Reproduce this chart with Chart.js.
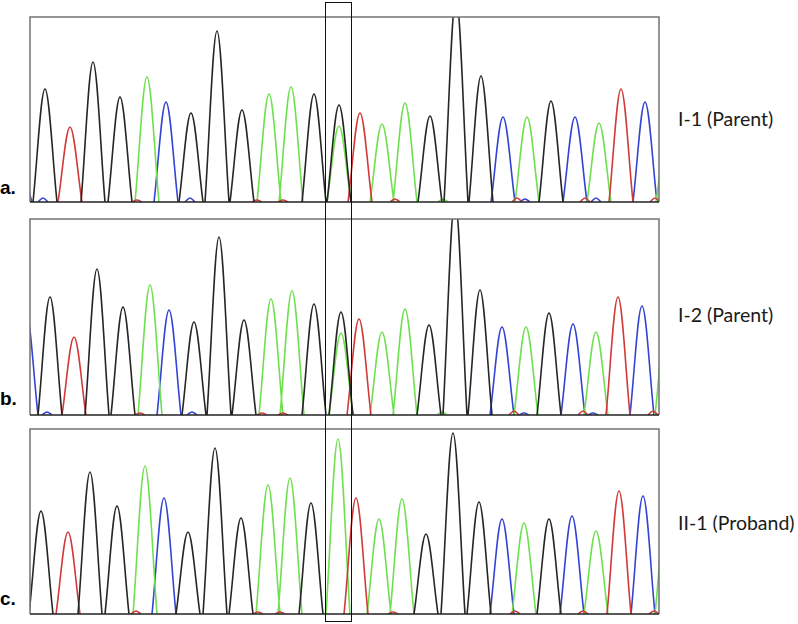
<!DOCTYPE html>
<html>
<head>
<meta charset="utf-8">
<script src="https://cdn.jsdelivr.net/npm/chart.js@4"></script>
<style>
  body { margin: 0; background: #fff; }
  #page { position: relative; width: 798px; height: 624px; overflow: hidden; background: #fff; }
  .panel { position: absolute; left: 28px; width: 633px; }
  .tag { position: absolute; left: 0; font: bold 19px "Liberation Sans", Arial, sans-serif; color: #000; line-height: 19px; }
  .name { position: absolute; left: 678px; font: 19.5px Lato, "Open Sans", sans-serif; color: #1a1a1a; line-height: 20px; white-space: nowrap; }
  #variant { position: absolute; left: 325px; top: 2px; width: 27px; height: 620px; border: 1.5px solid #111; box-sizing: border-box; z-index: 5; }
</style>
</head>
<body>
<div id="page">
  <div class="panel" style="top:15px;height:189px"><canvas id="traceA"></canvas></div>
  <div class="panel" style="top:217px;height:200px"><canvas id="traceB"></canvas></div>
  <div class="panel" style="top:427px;height:189px"><canvas id="traceC"></canvas></div>
  <div id="variant"></div>
  <div class="tag" style="top:178px">a.</div>
  <div class="tag" style="top:389px">b.</div>
  <div class="tag" style="top:589px">c.</div>
  <div class="name" style="top:109px">I-1 (Parent)</div>
  <div class="name" style="top:305px">I-2 (Parent)</div>
  <div class="name" style="top:513px">II-1 (Proband)</div>
</div>
<script>
// base call colours (ABI style)
const baseColors = { G: "#262626", T: "#d23a3a", A: "#6fe04f", C: "#3344d4" };

// I-1 (Parent)
const peakPosA = [45, 70, 93, 120, 147, 166, 191, 217, 242, 269, 291, 314, 339, 339, 360, 382, 405, 430, 456, 481, 503, 527, 551, 575, 599, 621, 645, 668];
const peakBaseA = ["G","T","G","G","A","C","G","G","G","A","A","G","G","A","T","A","A","G","G","G","C","A","G","C","A","T","C","A"];
const peakHeightA = [113, 75, 140, 105, 125, 100, 89, 171, 92, 108, 115, 108, 97, 76, 89, 78, 99, 86, 205, 126, 85, 85, 101, 85, 79, 113, 100, 77];
const noisePosA = [27, 43, 137, 190, 257, 283, 395, 443, 517, 525, 585, 596, 655];
const noiseBaseA = ["C","C","T","C","T","T","T","A","T","C","T","C","T"];
const noiseHeightA = [14, 4, 2, 4, 2, 2, 3, 3, 4, 3, 4, 4, 4];

// I-2 (Parent)
const peakPosB = [26, 50, 74, 97, 123, 150, 169, 194, 219, 244, 271, 292, 314, 341, 341, 359, 382, 405, 429, 455, 480, 502, 526, 549, 573, 596, 618, 642, 667];
const peakBaseB = ["C","G","T","G","G","A","C","G","G","G","A","A","G","G","A","T","A","A","G","G","G","C","A","G","C","A","T","C","A"];
const peakHeightB = [103, 118, 78, 146, 108, 130, 105, 93, 178, 95, 116, 124, 111, 103, 82, 96, 83, 106, 90, 215, 125, 88, 88, 102, 91, 83, 118, 109, 100];
const noisePosB = [47, 140, 192, 262, 283, 442, 514, 524, 583, 593, 653];
const noiseBaseB = ["C","T","C","T","T","A","T","C","T","C","T"];
const noiseHeightB = [3, 2, 3, 2, 2, 3, 4, 2, 4, 2, 4];

// II-1 (Proband)
const peakPosC = [41, 68, 90, 117, 145, 164, 188, 215, 241, 268, 290, 311, 338, 356, 379, 402, 426, 453, 479, 502, 524, 549, 572, 596, 619, 643, 667];
const peakBaseC = ["G","T","G","G","A","C","G","G","G","A","A","G","A","T","A","A","G","G","G","C","A","G","C","A","T","C","A"];
const peakHeightC = [103, 82, 142, 108, 148, 116, 82, 166, 96, 129, 136, 111, 175, 116, 95, 115, 80, 181, 112, 95, 91, 95, 98, 83, 123, 118, 110];
const noisePosC = [136, 258, 280, 393, 515, 583, 654];
const noiseBaseC = ["T","T","T","T","T","T","T"];
const noiseHeightC = [3, 2, 2, 2, 3, 3, 3];

const peakHalfWidth = 12;
const noiseHalfWidth = 5;

// frame round the trace, grey with a dark baseline
const framePlugin = {
  id: "frame",
  afterDraw(chart) {
    const { ctx, chartArea: a } = chart;
    ctx.save();
    ctx.lineWidth = 1.5;
    ctx.strokeStyle = "#737373";
    ctx.beginPath();
    ctx.moveTo(a.left, a.bottom);
    ctx.lineTo(a.left, a.top);
    ctx.lineTo(a.right, a.top);
    ctx.lineTo(a.right, a.bottom);
    ctx.stroke();
    ctx.strokeStyle = "#222";
    ctx.beginPath();
    ctx.moveTo(a.left, a.bottom);
    ctx.lineTo(a.right, a.bottom);
    ctx.stroke();
    ctx.restore();
  }
};

function buildDatasets(pos, bases, heights, nPos, nBases, nHeights) {
  const sets = [];
  Object.keys(baseColors).forEach(b => {
    const peaks = [];
    pos.forEach((p, i) => { if (bases[i] === b) peaks.push([p, heights[i], peakHalfWidth]); });
    nPos.forEach((p, i) => { if (nBases[i] === b) peaks.push([p, nHeights[i], noiseHalfWidth]); });
    peaks.sort((u, v) => u[0] - v[0]);
    const data = [];
    peaks.forEach(([p, h, w]) => {
      data.push({ x: p - w, y: 0 }, { x: p, y: h }, { x: p + w, y: 0 }, { x: p + w, y: null });
    });
    sets.push({
      data: data,
      borderColor: baseColors[b],
      borderWidth: 1.6,
      pointRadius: 0,
      tension: 0.35,
      spanGaps: false,
      fill: false
    });
  });
  return sets;
}

function drawTrace(id, yMax, pos, bases, heights, nPos, nBases, nHeights) {
  const ctx = document.getElementById(id).getContext("2d");
  return new Chart(ctx, {
    type: "line",
    data: { datasets: buildDatasets(pos, bases, heights, nPos, nBases, nHeights) },
    options: {
      responsive: true,
      maintainAspectRatio: false,
      animation: false,
      layout: { padding: 2 },
      scales: {
        x: { type: "linear", min: 30, max: 659, display: false },
        y: { min: 0, max: yMax, display: false }
      },
      plugins: { legend: { display: false }, tooltip: { enabled: false } }
    },
    plugins: [framePlugin]
  });
}

drawTrace("traceA", 185, peakPosA, peakBaseA, peakHeightA, noisePosA, noiseBaseA, noiseHeightA);
drawTrace("traceB", 196, peakPosB, peakBaseB, peakHeightB, noisePosB, noiseBaseB, noiseHeightB);
drawTrace("traceC", 185, peakPosC, peakBaseC, peakHeightC, noisePosC, noiseBaseC, noiseHeightC);
</script>
</body>
</html>
